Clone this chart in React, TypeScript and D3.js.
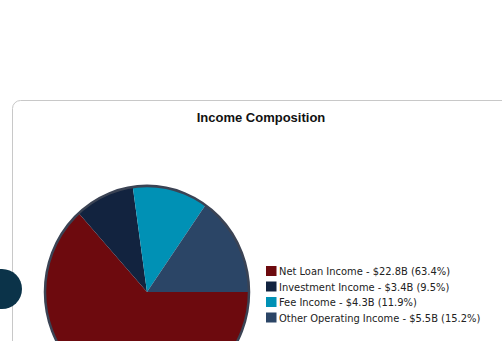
import React from "react";
import * as d3 from "d3";

const categories = ["Net Loan Income", "Investment Income", "Fee Income", "Other Operating Income"];
const values = [22.8, 3.4, 4.3, 5.5];
const percents = ["63.4%", "9.5%", "11.9%", "15.2%"];
const colors = ["#6d0a0e", "#12233f", "#0091b5", "#2b4566"];
const title = "Income Composition";

export default function App() {
  const W = 502, H = 341;
  const cx = 147, cy = 292, r = 102;
  const pie = d3.pie<number>().value((d) => d).sort(null).startAngle(Math.PI / 2).endAngle(Math.PI / 2 + 2 * Math.PI);
  const arcs = pie(values);
  const arc = d3.arc<d3.PieArcDatum<number>>().innerRadius(0).outerRadius(r);
  const legendY = d3.scaleLinear().domain([0, 1]).range([266, 281.5]);
  return (
    <svg width={W} height={H} style={{ position: "absolute", left: 0, top: 0 }}>
      <rect x={12.5} y={100.5} width={510} height={300} rx={8} fill="#fff" stroke="#c8c8c8" />
      <circle cx={2} cy={289} r={20} fill="#0b3349" />
      <text x={261} y={122} textAnchor="middle" fontFamily="Liberation Sans, Arial" fontWeight="bold" fontSize={13} fill="#111">{title}</text>
      <g transform={`translate(${cx},${cy}) scale(1,1.04)`}>
        {arcs.map((a, i) => (
          <path key={i} d={arc(a) || ""} fill={colors[i]} stroke="none" />
        ))}
        <circle r={r} fill="none" stroke="#3b4354" strokeWidth={2.5} />
      </g>
      {categories.map((c, i) => (
        <g key={c} transform={`translate(266,${legendY(i)})`}>
          <rect width={10.5} height={10} fill={colors[i]} />
          <text x={13} y={9} fontFamily="DejaVu Sans Condensed, DejaVu Sans" fontSize={11} fill="#222">
            {`${c} - $${values[i]}B (${percents[i]})`}
          </text>
        </g>
      ))}
    </svg>
  );
}
